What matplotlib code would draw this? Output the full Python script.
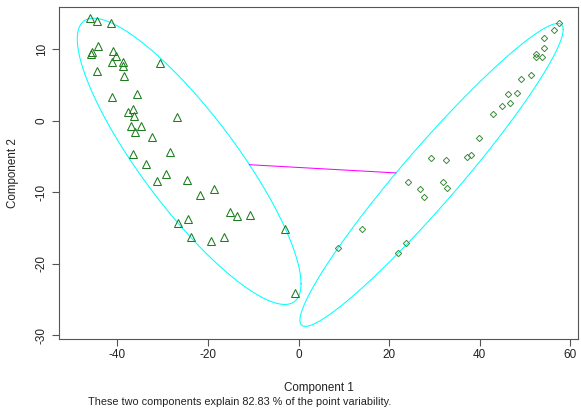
import numpy as np
import matplotlib
matplotlib.use("Agg")
import matplotlib.pyplot as plt

plt.rcParams['font.family'] = ['Liberation Sans', 'DejaVu Sans']
plt.rcParams['axes.unicode_minus'] = False

# cluster 1 (triangles): first two principal components
c1_x = [-46.0, -44.4, -41.4, -44.3, -45.7, -45.9, -40.9, -40.4, -41.1, -38.8,
        -38.7, -30.6, -44.6, -38.6, -35.6, -41.1, -36.6, -37.7, -36.4, -26.9,
        -37.0, -34.7, -36.2, -32.3, -36.5, -28.3, -33.6, -29.3, -31.2, -24.6,
        -18.6, -21.7, -15.1, -13.5, -10.7, -24.5, -26.6, -2.9, -23.8, -16.4,
        -19.4, -0.8]
c1_y = [14.3, 14.0, 13.7, 10.5, 9.6, 9.4, 9.8, 9.0, 8.2, 8.2,
        7.6, 8.1, 6.9, 6.2, 3.7, 3.3, 1.6, 1.2, 0.7, 0.5,
        -0.8, -0.8, -1.6, -2.2, -4.6, -4.3, -6.0, -7.5, -8.4, -8.3,
        -9.6, -10.4, -12.7, -13.3, -13.2, -13.7, -14.3, -15.1, -16.3, -16.2,
        -16.8, -24.1]

# cluster 2 (diamonds)
c2_x = [57.4, 56.3, 54.3, 54.3, 52.5, 52.4, 53.8, 49.2, 51.4, 46.2,
        48.2, 45.0, 46.7, 43.0, 39.9, 29.3, 32.6, 37.2, 38.1, 24.2,
        31.8, 26.8, 32.8, 27.6, 14.1, 8.7, 23.8, 22.0]
c2_y = [13.6, 12.7, 11.5, 10.2, 9.3, 8.9, 8.9, 5.9, 6.4, 3.7,
        3.9, 2.0, 2.5, 0.9, -2.4, -5.2, -5.5, -5.0, -4.8, -8.6,
        -8.6, -9.5, -9.4, -10.6, -15.1, -17.8, -17.1, -18.5]

explained = 82.83


def spanning_ellipse(x, y, tol=1e-6, max_iter=20000):
    # minimum volume ellipse around the points (Khachiyan iterations)
    P = np.column_stack([x, y])
    n, d = P.shape
    Q = np.vstack([P.T, np.ones(n)])
    u = np.ones(n) / n
    for _ in range(max_iter):
        X = (Q * u) @ Q.T
        M = np.einsum('ij,ji->i', Q.T @ np.linalg.inv(X), Q)
        j = np.argmax(M)
        step = (M[j] - d - 1) / ((d + 1) * (M[j] - 1))
        new_u = (1 - step) * u
        new_u[j] += step
        err = np.linalg.norm(new_u - u)
        u = new_u
        if err < tol:
            break
    c = P.T @ u
    A = np.linalg.inv((P.T * u) @ P - np.outer(c, c)) / d
    # scale so every point lies inside
    r = np.einsum('ij,jk,ik->i', P - c, A, P - c).max()
    return c, A / r


def ellipse_outline(c, A, n=300):
    L = np.linalg.cholesky(np.linalg.inv(A))
    t = np.linspace(0, 2 * np.pi, n)
    pts = c[:, None] + L @ np.vstack([np.cos(t), np.sin(t)])
    return pts[0], pts[1]


cen1, A1 = spanning_ellipse(c1_x, c1_y)
cen2, A2 = spanning_ellipse(c2_x, c2_y)

fig = plt.figure(figsize=(5.81, 4.12), dpi=100)
ax = fig.add_axes([59 / 581, 73 / 412, 519 / 581, 332 / 412])

for c, A in [(cen1, A1), (cen2, A2)]:
    ex, ey = ellipse_outline(c, A)
    ax.plot(ex, ey, color='#00FFFF', lw=0.75)

# segment joining the two centres, outside both ellipses
dv = cen2 - cen1
s1 = 1 / np.sqrt(dv @ A1 @ dv)
s2 = 1 - 1 / np.sqrt(dv @ A2 @ dv)
seg = np.array([cen1 + s1 * dv, cen1 + s2 * dv])
ax.plot(seg[:, 0], seg[:, 1], color='#FF00FF', lw=0.75)

ax.plot(c1_x, c1_y, linestyle='none', marker='^', ms=5.5, mfc='none',
        mec='#1E7B1E', mew=0.75)
ax.plot(c2_x, c2_y, linestyle='none', marker='D', ms=3.2, mfc='none',
        mec='#3A8A3A', mew=0.7)

ax.set_xlim(-52.9, 61.7)
ax.set_ylim(-30.5, 15.9)
ax.set_xticks([-40, -20, 0, 20, 40, 60])
ax.set_yticks([-30, -20, -10, 0, 10])
for side in ['top', 'right', 'left', 'bottom']:
    ax.spines[side].set_color('#555555')
ax.tick_params(direction='out', length=5, color='#555555', labelsize=8.5,
               labelcolor='#222222')
ax.tick_params(axis='x', pad=2)
ax.tick_params(axis='y', pad=3)
plt.setp(ax.get_yticklabels(), rotation=90, va='center')

ax.set_xlabel("Component 1", fontsize=8.4, labelpad=15, color='#222222')
ax.set_ylabel("Component 2", fontsize=8.4, labelpad=12, color='#222222')
fig.text(88 / 581, 1 - 402 / 412,
         "These two components explain %.2f %% of the point variability." % explained,
         fontsize=7.8, ha='left', va='center', color='#222222')

fig.savefig("out.png", dpi=100)
